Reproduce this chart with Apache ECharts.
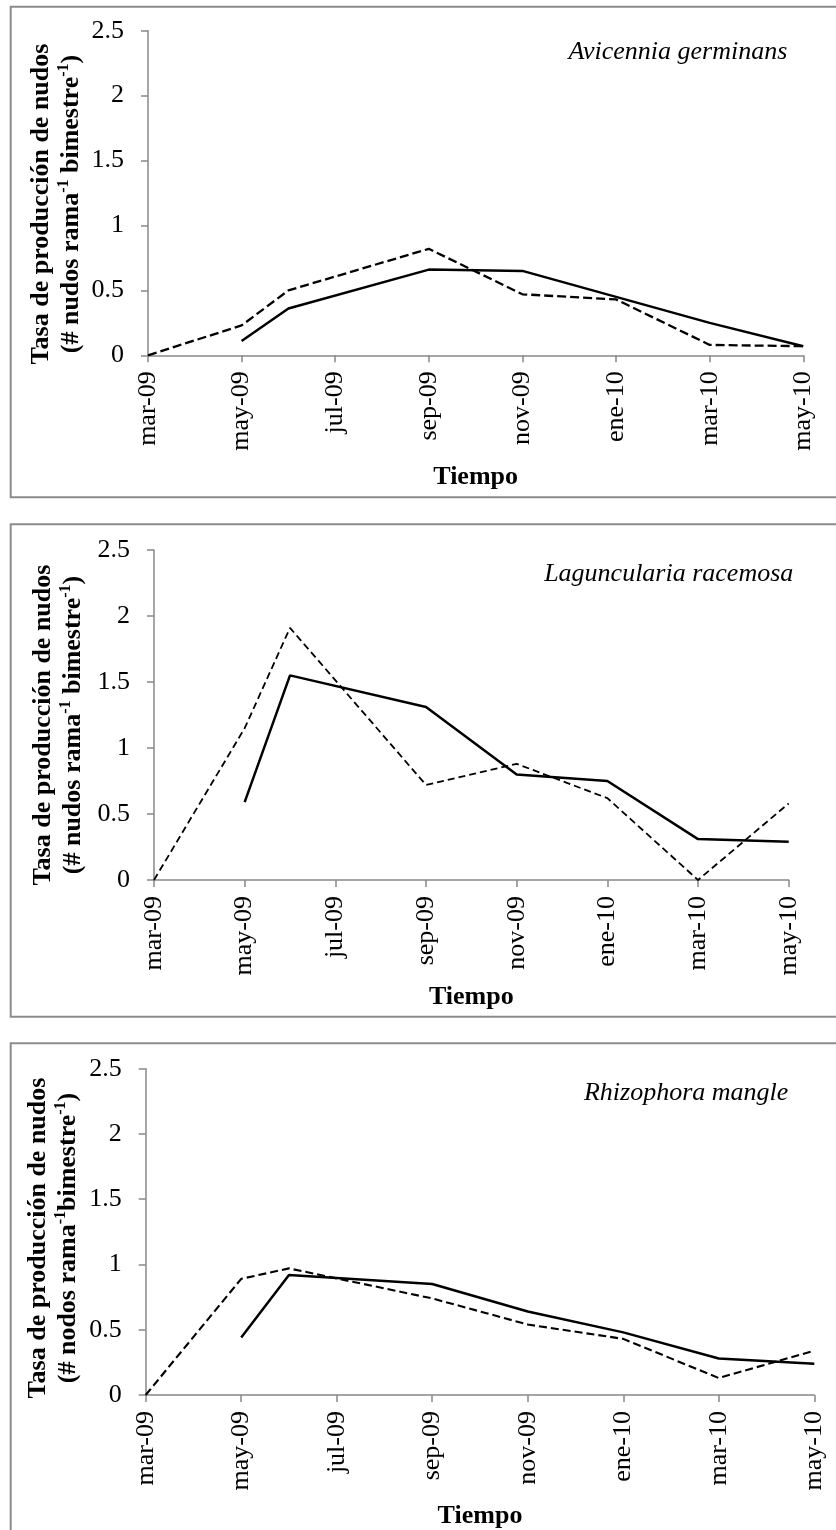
<!DOCTYPE html>
<html>
<head>
<meta charset="utf-8">
<script src="https://cdn.jsdelivr.net/npm/echarts@6/dist/echarts.min.js"></script>
<style>
html,body{margin:0;padding:0;background:#fff;}
#chart{width:836px;height:1530px;}
</style>
</head>
<body>
<div id="chart"></div>
<script>
// months since mar-09 for each sampling date
var sampleMonths = [0, 2, 3, 6, 8, 10, 12, 14];
var tickLabels = ['mar-09', 'may-09', 'jul-09', 'sep-09', 'nov-09', 'ene-10', 'mar-10', 'may-10'];
var yTicks = [0, 0.5, 1, 1.5, 2, 2.5];

var species = ['Avicennia germinans', 'Laguncularia racemosa', 'Rhizophora mangle'];

// solid line
var avicenniaSolid = [null, 0.11, 0.36, 0.66, 0.65, 0.45, 0.25, 0.07];
// dashed line
var avicenniaDashed = [0, 0.23, 0.50, 0.82, 0.47, 0.43, 0.08, 0.07];

var lagunculariaSolid = [null, 0.59, 1.55, 1.31, 0.80, 0.75, 0.31, 0.29];
var lagunculariaDashed = [0, 1.15, 1.91, 0.72, 0.88, 0.62, 0.00, 0.58];

var rhizophoraSolid = [null, 0.44, 0.92, 0.85, 0.64, 0.48, 0.28, 0.24];
var rhizophoraDashed = [0, 0.89, 0.97, 0.74, 0.54, 0.43, 0.13, 0.34];

var yTitleLine1 = 'Tasa de producción de nudos';
var xTitle = 'Tiempo';

function pairs(vals) {
  return sampleMonths.map(function (m, i) { return [m, vals[i]]; });
}

var FONT = 'Liberation Serif';
var AXIS_COLOR = '#888888';

var grids = [
  {left: 148, right: 32.7, top: 30.7, height: 324.6},
  {left: 154, right: 47.3, top: 550, height: 330},
  {left: 145.7, right: 21.7, top: 1068.7, height: 328}
];
var nameGaps = [109, 104, 108];
var dashWidths = [2.3, 1.8, 2.1];
var dashPatterns = [[9, 4], [7, 4], [8, 4]];

var xAxes = [], yAxes = [], series = [];
var solids = [avicenniaSolid, lagunculariaSolid, rhizophoraSolid];
var dashes = [avicenniaDashed, lagunculariaDashed, rhizophoraDashed];

for (var g = 0; g < 3; g++) {
  xAxes.push({
    type: 'value', gridIndex: g, min: 0, max: 14, interval: 2,
    name: xTitle, nameLocation: 'middle', nameGap: nameGaps[g],
    nameTextStyle: {fontFamily: FONT, fontWeight: 'bold', fontSize: 26, color: '#000'},
    axisLine: {show: true, lineStyle: {color: AXIS_COLOR, width: 1.5}},
    axisTick: {show: true, length: 7, lineStyle: {color: AXIS_COLOR, width: 1.5}},
    splitLine: {show: false},
    axisLabel: {
      rotate: 90, margin: 16, fontFamily: FONT, fontSize: 26, color: '#000',
      formatter: function (v) { return tickLabels[Math.round(v / 2)]; }
    }
  });
  yAxes.push({
    type: 'value', gridIndex: g, min: 0, max: 2.5, interval: 0.5,
    axisLine: {show: true, lineStyle: {color: AXIS_COLOR, width: 1.5}},
    axisTick: {show: true, length: 7, lineStyle: {color: AXIS_COLOR, width: 1.5}},
    splitLine: {show: false},
    axisLabel: {margin: 24, fontFamily: FONT, fontSize: 26, color: '#000'}
  });
  series.push({
    type: 'line', xAxisIndex: g, yAxisIndex: g, data: pairs(solids[g]),
    symbol: 'none', lineStyle: {color: '#000', width: 2.5, type: 'solid'}
  });
  series.push({
    type: 'line', xAxisIndex: g, yAxisIndex: g, data: pairs(dashes[g]),
    symbol: 'none', lineStyle: {color: '#000', width: dashWidths[g], type: dashPatterns[g]}
  });
}

var richTitle = {
  b: {fontFamily: FONT, fontSize: 26, fontWeight: 'bold', lineHeight: 30, fill: '#000'},
  s: {fontFamily: FONT, fontSize: 16, fontWeight: 'bold', lineHeight: 16, verticalAlign: 'top', fill: '#000'}
};

function yTitle(x, y, secondLine) {
  return {
    type: 'text', x: x, y: y, rotation: Math.PI / 2, silent: true,
    style: {
      text: '{b|' + yTitleLine1 + '}\n' + secondLine,
      rich: richTitle, align: 'center', verticalAlign: 'middle', fill: '#000'
    }
  };
}

function speciesLabel(x, y, txt) {
  return {
    type: 'text', x: x, y: y, silent: true,
    style: {
      text: txt, fontFamily: FONT, fontStyle: 'italic', fontSize: 26,
      fill: '#000', align: 'right', verticalAlign: 'middle'
    }
  };
}

function box(top, bottom) {
  return {
    type: 'rect', silent: true, z: -1,
    shape: {x: 10.7, y: top, width: 840, height: bottom - top},
    style: {fill: 'none', stroke: '#8c8c8c', lineWidth: 2}
  };
}

var graphics = [
  box(6.7, 497.3),
  box(524.3, 1016.7),
  box(1043.3, 1545),
  speciesLabel(787.3, 52.2, species[0]),
  speciesLabel(793.3, 574.2, species[1]),
  speciesLabel(788.3, 1092.9, species[2]),
  yTitle(56.2, 204, '{b|(# nudos rama}{s|-1}{b| bimestre}{s|-1}{b|)}'),
  yTitle(57.9, 725, '{b|(# nudos rama}{s|-1}{b| bimestre}{s|-1}{b|)}'),
  yTitle(53.2, 1238, '{b|(# nodos rama}{s|-1}{b|bimestre}{s|-1}{b|)}')
];

var chart = echarts.init(document.getElementById('chart'), null, {renderer: 'canvas'});
chart.setOption({
  animation: false,
  backgroundColor: '#fff',
  textStyle: {fontFamily: FONT},
  grid: grids,
  xAxis: xAxes,
  yAxis: yAxes,
  series: series,
  graphic: graphics
});
</script>
</body>
</html>
